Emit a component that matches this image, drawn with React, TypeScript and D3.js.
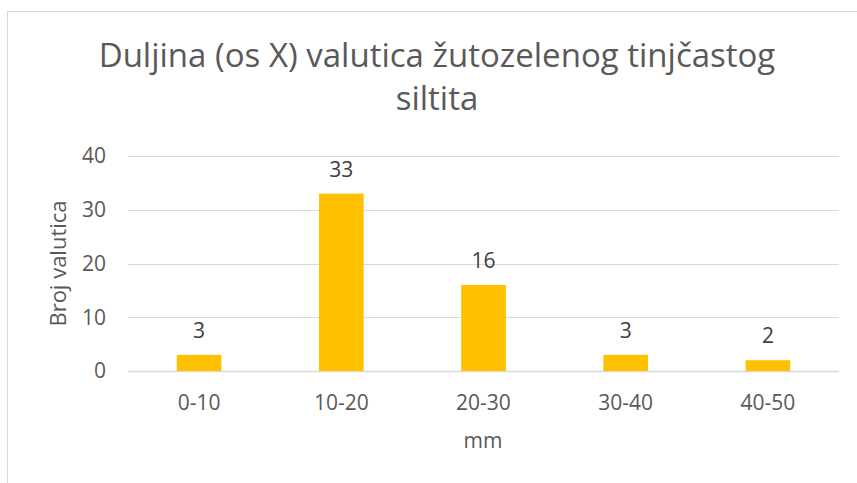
import React, { useEffect, useRef } from 'react'
import * as d3 from 'd3'

const categories = ['0-10', '10-20', '20-30', '30-40', '40-50']
const counts = [3, 33, 16, 3, 2]
const yTicks = [0, 10, 20, 30, 40]
const titleLines = ['Duljina (os X) valutica žutozelenog tinjčastog', 'siltita']

const FONT = '"Open Sans", "Noto Sans", sans-serif'

const App = () => {
  const svgRef = useRef<SVGSVGElement>(null)

  useEffect(() => {
    const width = 857
    const height = 483
    const svg = d3.select(svgRef.current).attr('width', width).attr('height', height)
    svg.selectAll('*').remove()

    // chart frame (cut off at right and bottom like the screenshot)
    svg
      .append('rect')
      .attr('x', 7.5)
      .attr('y', 11.5)
      .attr('width', 900)
      .attr('height', 500)
      .attr('fill', '#fff')
      .attr('stroke', '#d9d9d9')

    const plot = { left: 128, right: 839, top: 156, bottom: 371 }

    const x = d3.scaleBand().domain(categories).range([plot.left, plot.right]).paddingInner(0.686).paddingOuter(0.343)
    const y = d3.scaleLinear().domain([0, 40]).range([plot.bottom, plot.top])

    // title
    const title = svg
      .append('text')
      .attr('text-anchor', 'middle')
      .style('font-family', FONT)
      .style('font-size', '33px')
      .attr('fill', '#595959')
    titleLines.forEach((line, i) => {
      title
        .append('tspan')
        .attr('x', 437)
        .attr('y', 67 + i * 43)
        .text(line)
    })

    // gridlines
    svg
      .append('g')
      .selectAll('line')
      .data(yTicks)
      .join('line')
      .attr('x1', plot.left)
      .attr('x2', plot.right)
      .attr('y1', (d) => Math.round(y(d)) + 0.5)
      .attr('y2', (d) => Math.round(y(d)) + 0.5)
      .attr('stroke', '#d9d9d9')
      .attr('stroke-width', (d) => (d === 0 ? 1.5 : 1))

    // y tick labels
    svg
      .append('g')
      .selectAll('text')
      .data(yTicks)
      .join('text')
      .attr('x', 106)
      .attr('y', (d) => y(d))
      .attr('dy', '0.35em')
      .attr('text-anchor', 'end')
      .style('font-family', FONT)
      .style('font-size', '21px')
      .attr('fill', '#595959')
      .text((d) => d)

    // bars
    svg
      .append('g')
      .selectAll('rect')
      .data(counts)
      .join('rect')
      .attr('x', (d, i) => x(categories[i]))
      .attr('y', (d) => y(d))
      .attr('width', x.bandwidth())
      .attr('height', (d) => y(0) - y(d))
      .attr('fill', '#ffc000')

    // data labels
    svg
      .append('g')
      .selectAll('text')
      .data(counts)
      .join('text')
      .attr('x', (d, i) => x(categories[i]) + x.bandwidth() / 2)
      .attr('y', (d) => y(d) - 17)
      .attr('text-anchor', 'middle')
      .style('font-family', FONT)
      .style('font-size', '21px')
      .attr('fill', '#404040')
      .text((d) => d)

    // x tick labels
    svg
      .append('g')
      .selectAll('text')
      .data(categories)
      .join('text')
      .attr('x', (d) => x(d) + x.bandwidth() / 2)
      .attr('y', 410)
      .attr('text-anchor', 'middle')
      .style('font-family', FONT)
      .style('font-size', '21px')
      .attr('fill', '#595959')
      .text((d) => d)

    // axis titles
    svg
      .append('text')
      .attr('x', 483)
      .attr('y', 448)
      .attr('text-anchor', 'middle')
      .style('font-family', FONT)
      .style('font-size', '21px')
      .attr('fill', '#595959')
      .text('mm')

    svg
      .append('text')
      .attr('transform', `translate(66, ${(plot.top + plot.bottom) / 2}) rotate(-90)`)
      .attr('text-anchor', 'middle')
      .style('font-family', FONT)
      .style('font-size', '22px')
      .attr('fill', '#595959')
      .text('Broj valutica')
  }, [])

  return <svg ref={svgRef} style={{ position: 'absolute', left: 0, top: 0 }}></svg>
}

export default App
